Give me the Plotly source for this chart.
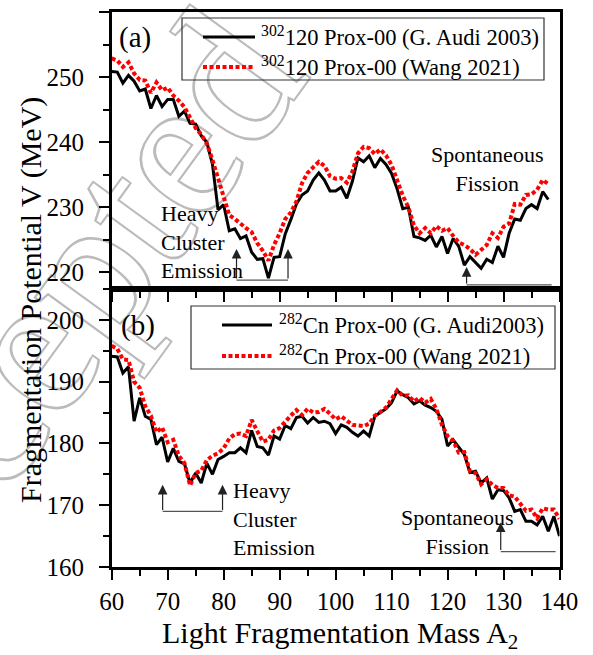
import plotly.graph_objects as go

# ---------------- data ----------------
A_a = list(range(60, 139))
audi_a = [250.9, 250.8, 249.1, 250.3, 249.4, 247.9, 248.2, 245.2, 247.2, 245.5,
          246.6, 246.6, 244.0, 244.8, 242.9, 242.8, 241.0, 240.0, 236.6, 229.6,
          230.4, 226.4, 226.7, 225.2, 225.6, 223.1, 222.0, 222.1, 219.1, 222.3,
          222.4, 225.9, 228.1, 230.5, 231.9, 232.5, 234.2, 235.3, 234.2, 232.5,
          232.5, 233.1, 231.4, 234.0, 237.6, 237.0, 237.9, 236.1, 237.5, 236.6,
          235.2, 232.8, 229.8, 230.0, 225.5, 225.3, 224.9, 225.7, 223.9, 225.5,
          222.9, 225.2, 224.0, 221.1, 222.4, 221.5, 220.6, 222.0, 221.5, 224.0,
          222.3, 226.0, 228.2, 228.0, 229.8, 230.4, 229.8, 232.4, 231.2]
wang_a = [252.9, 252.6, 251.6, 252.3, 250.6, 249.6, 249.5, 247.6, 249.2, 248.0,
          248.4, 247.2, 246.4, 245.4, 243.8, 242.2, 241.2, 239.8, 237.3, 234.5,
          231.5, 228.8, 228.2, 227.4, 226.8, 226.2, 224.5, 223.3, 221.8, 224.2,
          226.0, 228.2, 229.2, 230.9, 233.7, 235.3, 236.2, 237.0, 236.4, 234.8,
          234.4, 234.5, 233.8, 235.5, 238.3, 239.3, 239.1, 238.2, 238.9, 238.0,
          236.5, 234.2, 231.8, 230.0, 227.2, 226.0, 226.8, 226.0, 227.1, 226.4,
          226.8, 225.6, 224.6, 224.2, 223.6, 222.7, 223.4, 224.2, 226.0, 225.3,
          227.0, 227.5, 230.5, 230.4, 231.9, 232.0, 232.7, 234.2, 233.6]

A_b = list(range(60, 141))
audi_b = [194.1, 194.0, 191.4, 192.4, 183.6, 187.4, 184.4, 183.9, 179.8, 181.0,
          177.0, 179.2, 177.1, 176.7, 173.6, 175.2, 173.6, 176.8, 175.0, 177.4,
          177.9, 178.5, 178.5, 179.3, 178.5, 182.1, 179.5, 179.3, 178.1, 181.2,
          180.7, 182.9, 182.4, 184.2, 184.4, 183.3, 184.2, 183.4, 183.6, 183.2,
          181.6, 183.0, 182.6, 181.8, 181.2, 182.0, 181.2, 184.4, 185.0, 185.6,
          186.6, 188.5, 187.9, 187.4, 186.4, 186.9, 186.2, 185.8, 185.2, 183.9,
          179.6, 180.6, 179.4, 178.2, 175.3, 175.5, 173.6, 174.4, 171.0, 172.5,
          172.4, 171.2, 169.0, 169.3, 167.4, 167.4, 166.8, 168.2, 165.8, 168.2,
          165.0]
wang_b = [195.8, 195.3, 193.6, 193.5, 190.0, 189.0, 186.0, 184.5, 181.8, 182.6,
          180.2, 180.6, 178.0, 176.8, 173.2, 175.2, 175.6, 177.3, 178.0, 178.4,
          179.2, 180.8, 181.5, 181.6, 181.2, 183.8, 182.0, 180.3, 180.6, 182.1,
          182.5, 183.6, 184.5, 185.4, 184.6, 185.6, 185.0, 185.1, 185.6, 184.8,
          183.9, 184.4, 183.6, 183.0, 182.9, 182.8, 183.2, 184.5, 185.1, 185.8,
          187.2, 188.6, 187.7, 187.8, 186.8, 187.4, 186.6, 187.2, 185.6, 183.0,
          181.2, 180.4, 178.5, 178.6, 175.5, 175.2, 173.4, 174.2, 173.3, 172.8,
          172.8, 171.6, 171.4, 170.3, 169.1, 169.3, 167.9, 169.5, 169.3, 169.3,
          167.8]

x_ticks = list(range(60, 141, 10))
ya_ticks = list(range(220, 261, 10))
yb_ticks = list(range(160, 201, 10))

# annotation brackets (A positions and V levels)
hce_a = dict(xs=[82.3, 91.5], top=223.6, bot=218.8)
sf_a = dict(x=123.4, top=220.8, bot=218.05, end=138.6)
hce_b = dict(xs=[69.1, 79.8], top=173.3, bot=169.0)
sf_b = dict(x=129.5, top=167.2, bot=162.5, end=139.3)

FONT = "Liberation Serif, Times New Roman, serif"
W, H = 593, 655


def px(x):
    return x / W


def py(y):
    return 1 - y / H


XD = [px(111.7), px(559.5)]
YA = [py(289), py(12.3)]
YB = [py(567), py(289)]

fig = go.Figure()

RED_LINE = dict(color="red", width=4, dash="4px,2.5px")
BLK_LINE = dict(color="black", width=3)

fig.add_trace(go.Scatter(x=A_a, y=audi_a, mode="lines", xaxis="x2", yaxis="y2",
                         line=BLK_LINE, showlegend=False))
fig.add_trace(go.Scatter(x=A_a, y=wang_a, mode="lines", xaxis="x2", yaxis="y2",
                         line=RED_LINE, showlegend=False))
fig.add_trace(go.Scatter(x=A_b, y=audi_b, mode="lines", xaxis="x", yaxis="y",
                         line=BLK_LINE, showlegend=False))
fig.add_trace(go.Scatter(x=A_b, y=wang_b, mode="lines", xaxis="x", yaxis="y",
                         line=RED_LINE, showlegend=False))

tickfont = dict(family=FONT, size=25, color="black")
common = dict(showline=True, linewidth=2.5, linecolor="black", mirror=True,
              ticks="outside", ticklen=10, tickwidth=1.8, tickcolor="black",
              showgrid=False, zeroline=False, tickfont=tickfont, automargin=False)
inner = dict(showline=False, ticks="inside", ticklen=8, tickwidth=1.5, tickcolor="black",
             showgrid=False, zeroline=False, showticklabels=False, automargin=False)

fig.update_layout(
    width=W, height=H,
    margin=dict(l=0, r=0, t=0, b=0, pad=0, autoexpand=False),
    paper_bgcolor="white", plot_bgcolor="rgba(0,0,0,0)",
    showlegend=False,
    xaxis=dict(domain=XD, anchor="y", range=[60, 140], tickmode="array", tickvals=x_ticks,
               minor=dict(tickmode="linear", tick0=60, dtick=5, ticks="outside", ticklen=6,
                          tickwidth=1.5, tickcolor="black"), **common),
    xaxis2=dict(domain=XD, anchor="y2", range=[60, 140], matches="x", tickmode="array",
                tickvals=x_ticks, showticklabels=False,
                minor=dict(tickmode="linear", tick0=60, dtick=5, ticks="outside", ticklen=6,
                           tickwidth=1.5, tickcolor="black"), **common),
    xaxis3=dict(overlaying="x2", anchor="y2", side="top", range=[60, 140], tickmode="array",
                tickvals=x_ticks,
                minor=dict(tickmode="linear", tick0=60, dtick=5, ticks="inside", ticklen=5,
                           tickwidth=1.3, tickcolor="black"), **inner),
    yaxis=dict(domain=YB, anchor="x", range=[160, 205], tickmode="array", tickvals=yb_ticks,
               ticklabelstandoff=10,
               minor=dict(tickmode="linear", tick0=160, dtick=5, ticks="outside", ticklen=6,
                          tickwidth=1.5, tickcolor="black"), **common),
    yaxis2=dict(domain=YA, anchor="x2", range=[217.43, 260], tickmode="array", tickvals=ya_ticks,
                ticklabelstandoff=10,
                minor=dict(tickmode="linear", tick0=215, dtick=5, ticks="outside", ticklen=6,
                           tickwidth=1.5, tickcolor="black"), **common),
    yaxis3=dict(overlaying="y", anchor="x", side="right", range=[160, 205], tickmode="array",
                tickvals=yb_ticks,
                minor=dict(tickmode="linear", tick0=160, dtick=5, ticks="inside", ticklen=5,
                           tickwidth=1.3, tickcolor="black"), **inner),
    yaxis4=dict(overlaying="y2", anchor="x", side="right", range=[217.43, 260], tickmode="array",
                tickvals=ya_ticks,
                minor=dict(tickmode="linear", tick0=215, dtick=5, ticks="inside", ticklen=5,
                           tickwidth=1.3, tickcolor="black"), **inner),
)

# ---------------- watermark ----------------
try:
    wm_font = go.layout.shape.label.Font(
        family=FONT, size=200, color="white",
        shadow="2px 2px 0 #bbbbbb, -2px -2px 0 #bbbbbb, 2px -2px 0 #bbbbbb, -2px 2px 0 #bbbbbb")
except Exception:
    wm_font = dict(family=FONT, size=200, color="#e6e6e6")
fig.add_shape(type="line", xref="paper", yref="paper",
              x0=px(-214), y0=py(645), x1=px(246), y1=py(13),
              line=dict(width=0, color="rgba(0,0,0,0)"), layer="below",
              label=dict(text="Accepted", font=wm_font, textposition="middle",
                         yanchor="middle", textangle=-54))


def note(x, y, text, size=22, xanchor="center", yanchor="middle", align="center", angle=0):
    fig.add_annotation(x=px(x), y=py(y), xref="paper", yref="paper", showarrow=False,
                       xanchor=xanchor, yanchor=yanchor, align=align, text=text,
                       textangle=angle, font=dict(family=FONT, size=size, color="black"))


# ---------------- axis titles ----------------
note(31, 300, "Fragmentation Potential V (MeV)", size=30, angle=-90)
note(340, 635, "Light Fragmentation Mass A<sub>2</sub>", size=30)

# panel labels
note(117, 38, "(a)", size=29, xanchor="left")
note(119, 325, "(b)", size=29, xanchor="left")

# ---------------- legends ----------------
legends = [
    dict(box=(182, 18, 544, 80), line=(203, 255), tx=259,
         rows=[(37, "<sup>302</sup>120 Prox-00 (G. Audi 2003)", "solid"),
               (67, "<sup>302</sup>120 Prox-00 (Wang 2021)", "dot")]),
    dict(box=(191, 306, 555, 369), line=(222, 272), tx=277,
         rows=[(325, "<sup>282</sup>Cn Prox-00 (G. Audi2003)", "solid"),
               (356, "<sup>282</sup>Cn Prox-00 (Wang 2021)", "dot")]),
]
for lg in legends:
    x0, y0, x1, y1 = lg["box"]
    fig.add_shape(type="rect", xref="paper", yref="paper", x0=px(x0), y0=py(y0),
                  x1=px(x1), y1=py(y1), line=dict(color="#333", width=1.2),
                  fillcolor="rgba(0,0,0,0)", layer="above")
    for yy, txt, sty in lg["rows"]:
        ln = BLK_LINE if sty == "solid" else RED_LINE
        fig.add_shape(type="line", xref="paper", yref="paper", x0=px(lg["line"][0]), y0=py(yy),
                      x1=px(lg["line"][1]), y1=py(yy), line=ln, layer="above")
        note(lg["tx"], yy - 1, txt, size=22.5, xanchor="left")

# ---------------- text annotations ----------------
note(159, 242, "Heavy<br>Cluster<br>Emission", xanchor="left", align="left")
note(231, 519, "Heavy<br>Cluster<br>Emission", xanchor="left", align="left")
note(487, 169, "Spontaneous<br>Fission")
note(457, 532, "Spontaneous<br>Fission")


# ---------------- brackets & arrows ----------------
def arrow(x, top, bot, xr, yr):
    fig.add_annotation(x=x, y=top, ax=x, ay=bot, xref=xr, yref=yr, axref=xr, ayref=yr,
                       showarrow=True, arrowhead=2, arrowsize=1.6, arrowwidth=1.2,
                       arrowcolor="#222", text="", standoff=0, startstandoff=0)


def hline(xa, xb, yv, xr, yr):
    fig.add_shape(type="line", xref=xr, yref=yr, x0=xa, x1=xb, y0=yv, y1=yv,
                  line=dict(color="#555", width=1.2), layer="above")


for br, xr, yr in [(hce_a, "x2", "y2"), (hce_b, "x", "y")]:
    for xv in br["xs"]:
        arrow(xv, br["top"], br["bot"], xr, yr)
    hline(br["xs"][0], br["xs"][1], br["bot"], xr, yr)
for br, xr, yr in [(sf_a, "x2", "y2"), (sf_b, "x", "y")]:
    arrow(br["x"], br["top"], br["bot"], xr, yr)
    hline(br["x"], br["end"], br["bot"], xr, yr)

fig.write_html("out.html")
